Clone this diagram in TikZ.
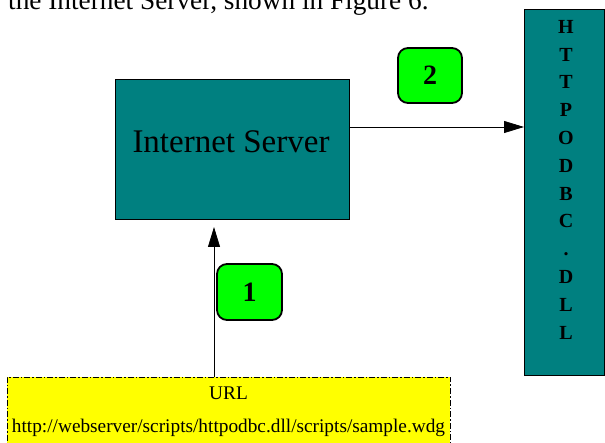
\documentclass[tikz,border=0pt]{standalone}
\usepackage{fontspec}
\setmainfont{Liberation Serif}
\usetikzlibrary{arrows.meta}
\definecolor{tealbox}{RGB}{0,128,128}
\definecolor{badgegreen}{RGB}{0,255,0}
\definecolor{urlyellow}{RGB}{255,255,0}

\begin{document}
\begin{tikzpicture}[x=1pt,y=-1pt,
  box/.style={draw=black, line width=0.8pt, fill=tealbox, inner sep=0pt, outer sep=0pt},
  badge/.style={draw=black, line width=1.8pt, fill=badgegreen, rounded corners=10pt,
    minimum width=64pt, minimum height=55pt, inner sep=0pt,
    font=\fontsize{28}{30}\selectfont\bfseries},
  flow/.style={line width=0.8pt, -{Triangle[length=20pt,width=12pt]}},
]
\clip (0,0) rectangle (605,443);
\useasboundingbox (0,0) rectangle (605,443);

% running text line above the figure
\node[anchor=base west, inner sep=0pt, font=\fontsize{27.3}{30}\selectfont] (caption) at (8,10)
  {the Internet Server, shown in Figure 6.};

% server box
\node[box, minimum width=234pt, minimum height=140pt] (server) at (232,149) {};
\node[inner sep=0pt, font=\fontsize{33}{36}\selectfont] (servertxt) at (231,142) {Internet Server};

% vertical DLL box
\node[box, minimum width=80pt, minimum height=366pt] (dll) at (564,192) {};
\node[anchor=north, inner sep=0pt, align=center, font=\fontsize{20}{27.8}\selectfont\bfseries]
  (dlltxt) at (566,20) {H\\T\\T\\P\\O\\D\\B\\C\\.\\D\\L\\L};

% URL request box
\node[draw=black, line width=0.8pt, dash pattern=on 6pt off 2pt on 1.5pt off 2pt,
  fill=urlyellow, minimum width=443pt, minimum height=80pt, inner sep=0pt]
  (url) at (228.5,417) {};
\node[anchor=north, inner sep=0pt, align=center, font=\fontsize{19.3}{33.5}\selectfont]
  (urltxt) at (228.5,386.5) {URL\\http://webserver/scripts/httpodbc.dll/scripts/sample.wdg};

% connectors
\coordinate (srvout) at ([yshift=22pt]server.east);
\coordinate (srvin) at ([xshift=-18pt]server.south);
\draw[flow] (srvout) -- (srvout -| dll.west);
\draw[flow, shorten >=8pt] (srvin |- url.north) -- (srvin);

% step badges
\node[badge] (b2) at (430,75.5) {2};
\node[badge, minimum width=65pt, minimum height=56pt] (b1) at (249.5,292) {1};
\end{tikzpicture}
\end{document}
